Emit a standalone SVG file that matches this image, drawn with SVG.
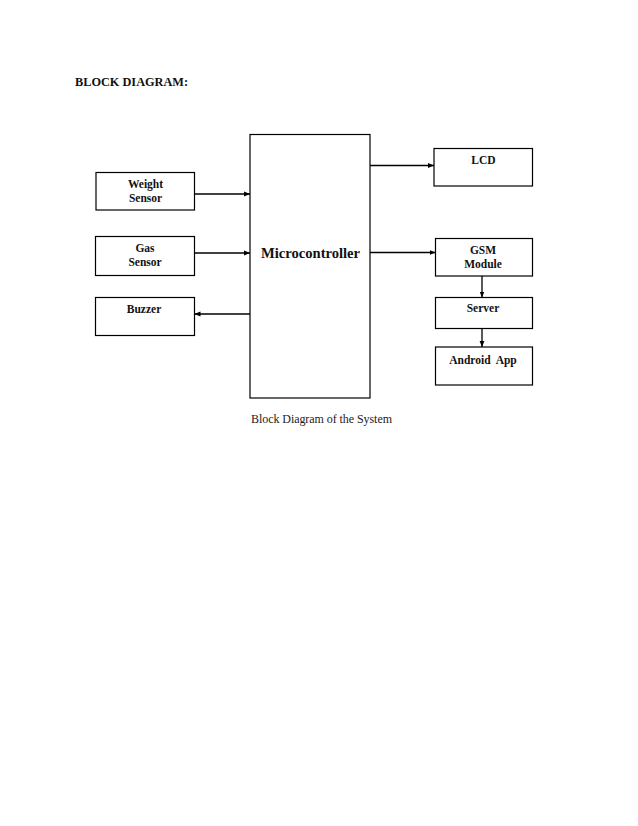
<svg xmlns="http://www.w3.org/2000/svg" width="638" height="826" viewBox="0 0 638 826">
<style>
.box{fill:#fff;stroke:#000;stroke-width:1.2}
.lbl{font-family:"Liberation Serif","Times New Roman",serif;font-weight:bold;font-size:11.5px;text-anchor:middle;fill:#111}
.con{stroke:#000;stroke-width:1.3;fill:none}
</style>
<defs>
<marker id="ah" viewBox="0 0 10 10" refX="10" refY="5" markerWidth="6" markerHeight="6" markerUnits="userSpaceOnUse" orient="auto">
<path d="M0,1 L10,5 L0,9 Z" fill="#000"/>
</marker>
</defs>
<rect width="638" height="826" fill="#fff"/>
<text x="75" y="86" font-family="Liberation Serif, Times New Roman, serif" font-weight="bold" font-size="12.3" fill="#111">BLOCK DIAGRAM:</text>
<g id="microcontroller">
<rect class="box" x="250" y="134.5" width="120" height="263.5"/>
<text class="lbl" x="310.5" y="258" style="font-size:14.6px">Microcontroller</text>
</g>
<g id="weight-sensor">
<rect class="box" x="96" y="172.5" width="98.5" height="37.5"/>
<text class="lbl" x="145.5" y="188">Weight</text>
<text class="lbl" x="145.5" y="202">Sensor</text>
</g>
<g id="gas-sensor">
<rect class="box" x="95.5" y="236.5" width="99" height="39"/>
<text class="lbl" x="145" y="251.5">Gas</text>
<text class="lbl" x="145" y="266">Sensor</text>
</g>
<g id="buzzer">
<rect class="box" x="95.5" y="297.5" width="99" height="38"/>
<text class="lbl" x="144" y="313">Buzzer</text>
</g>
<g id="lcd">
<rect class="box" x="434" y="148.5" width="98.5" height="37.5"/>
<text class="lbl" x="483.5" y="164">LCD</text>
</g>
<g id="gsm-module">
<rect class="box" x="435.5" y="238.5" width="97" height="37.5"/>
<text class="lbl" x="483" y="253.5">GSM</text>
<text class="lbl" x="483" y="268">Module</text>
</g>
<g id="server">
<rect class="box" x="435.5" y="297.5" width="97" height="31"/>
<text class="lbl" x="483" y="311.5">Server</text>
</g>
<g id="android-app">
<rect class="box" x="435.5" y="347" width="97" height="38"/>
<text class="lbl" x="483" y="364" xml:space="preserve">Android  App</text>
</g>
<g id="connectors">
<line class="con" x1="194.5" y1="194" x2="250" y2="194" marker-end="url(#ah)"/>
<line class="con" x1="194.5" y1="253" x2="250" y2="253" marker-end="url(#ah)"/>
<line class="con" x1="250" y1="314" x2="194.5" y2="314" marker-end="url(#ah)"/>
<line class="con" x1="370" y1="165.5" x2="434" y2="165.5" marker-end="url(#ah)"/>
<line class="con" x1="370" y1="252.5" x2="435.5" y2="252.5" marker-end="url(#ah)"/>
<line class="con" x1="482" y1="276" x2="482" y2="297.5" marker-end="url(#ah)"/>
<line class="con" x1="482" y1="328.5" x2="482" y2="347" marker-end="url(#ah)"/>
</g>
<text x="321.5" y="423" font-family="Liberation Serif, Times New Roman, serif" font-size="12" text-anchor="middle" textLength="141" fill="#222">Block Diagram of the System</text>
</svg>
